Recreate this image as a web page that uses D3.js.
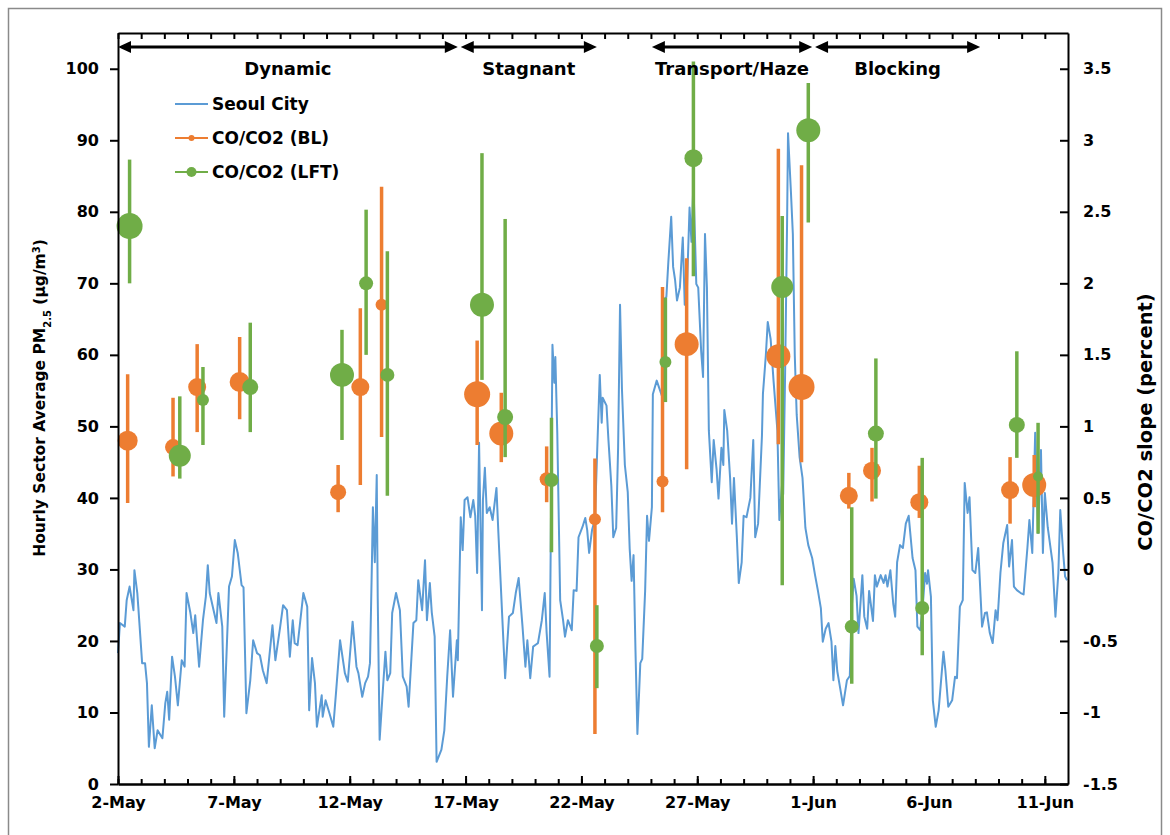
<!DOCTYPE html>
<html><head><meta charset="utf-8">
<script src="https://cdn.jsdelivr.net/npm/d3@7"></script>
<style>
html,body{margin:0;padding:0;background:#fff;}
svg text{font-family:"DejaVu Sans",sans-serif;font-weight:bold;fill:#000;}
</style></head><body>
<svg id="chart" width="1170" height="835"></svg>
<script>
// ---------------- DATA ----------------
// Seoul City hourly PM2.5 (hours since 2-May 00:00, µg/m3)
const seoulHour = [0,2,7,9,12,16,17,20,21,25,28,30,32,35,38,41,46,49,51,53,56,59,62,66,69,71,75,78,80,84,88,91,93,95,99,102,104,108,110,115,118,121,124,128,130,133,137,140,144,147,150,154,160,163,168,171,175,178,181,183,186,192,196,198,201,204,206,211,212,215,219,223,226,230,235,238,243,247,249,253,256,259,261,263,264,266,268,269,271,275,277,279,282,284,288,292,295,299,301,306,309,311,315,318,320,323,325,328,330,335,338,341,344,347,351,352,355,357,359,362,365,368,370,372,374,377,378,380,382,385,388,392,394,398,401,403,405,409,412,415,419,422,424,427,430,433,435,439,442,444,447,449,450,452,453,455,458,461,463,466,470,472,475,477,481,484,486,488,491,494,496,499,501,502,506,508,511,513,516,518,520,522,525,528,530,532,534,536,538,541,543,546,548,550,553,554,558,561,564,565,568,570,573,575,577,579,582,585,587,589,592,594,596,599,601,604,606,608,610,612,615,617,620,622,625,627,628,631,634,636,638,641,643,646,648,651,655,658,660,663,667,668,671,673,676,679,683,685,688,689,691,693,694,697,699,701,703,706,709,712,715,719,722,725,728,730,733,736,739,741,743,745,748,751,755,758,760,762,765,767,771,773,776,778,782,784,786,790,793,795,797,800,803,805,807,810,813,816,819,823,826,828,831,834,836,838,839,842,844,847,850,855,857,860,864,867,869,872,875,877,880,882,885,888,891,895,898,900,903,906,909,911,914,917,921,923,926,928,931,935,938,942,944,947,950,953,956,958,960,963,968,971,974,976,979,981,983];
const seoulPM = [18.3,22.5,22,25.7,27.6,24.3,29.9,26.7,24.8,16.9,16.9,14.1,5.2,11,5,7.5,6.4,11.3,12.9,9,17.8,15,11,17.3,16.4,26.7,23.9,21.1,23.6,16.4,22.9,26.2,30.6,26.7,24.3,22.5,26.7,22,9.4,27.6,29,34.1,32.3,27.8,27.5,9.9,14.5,20.1,18.3,18,15.9,14.1,22.2,17.3,22,25,24.3,17.8,22.9,19.7,19.4,26.7,24.8,10.3,17.6,14.1,8,12.4,9.4,11.7,9.9,8,13.1,20.1,15.5,14.3,22.7,16.4,15.5,12.2,14.1,15,16.9,30.9,38.7,31,43.2,26.2,6.2,14.5,18.5,14.5,15.5,23.9,26.7,24.3,15,13.6,10.8,22.5,22.9,28.5,24.3,31.3,22.9,28.1,24,20.6,3.1,4.8,7.5,15,21.5,12.2,20.1,17.3,37.3,32.7,39.7,40.1,37.3,39.7,37.5,29.5,47.7,24.3,39.7,44.2,37.9,38.7,36.9,41.4,35.1,23.4,14.8,19.2,23.4,23.9,26.7,28.8,22,16.4,20.1,14.8,19.2,19.5,19.7,22.9,26.7,21.1,15,45.3,61.4,56.1,59.7,49.1,25.7,22.9,20.6,22.9,21.5,27.1,27,34.5,35.9,37.2,35.5,32.3,35.5,37,45.2,57.2,50.5,54,52.9,48.1,41.7,34.5,35.8,47,67,55.2,44.6,40.8,32.9,28.4,32,18.7,7,16.9,17.5,27,37.5,34,38.7,54.5,56.4,55.2,54,67.6,68.1,72.9,79.3,72.3,70.5,67.6,69.4,76.4,67,68,80.6,75.8,84.1,69.9,69.4,60.6,56.9,76.9,69.4,49.4,42.2,48.1,44,39.9,47,44.6,52.3,49.4,42.8,36.4,42.8,34.5,28.1,31,37.5,37.3,40,48.1,34.5,36.4,48.7,54.5,59.9,64.6,62.2,56.4,49.4,36.9,42.2,40.5,57.5,78.2,91,82.8,76.9,59.9,51.6,45.7,42.8,35.8,33.4,31.6,29.2,27,24.6,19.9,21.7,22.5,19.9,14.5,19.3,15.8,13.4,11,14.5,15.1,24.6,28.7,26.3,21.1,29.2,23.4,21.7,27,22.8,29.2,27.6,29.2,28.1,29.2,27.6,29.9,25.2,23.4,31,33.4,33,36.4,37.5,31.6,29.9,22,21.5,25.7,29.5,28,29.9,26.2,11.7,8,10.3,18.5,15.9,10.8,11.7,15,14.8,24.8,25.7,42.1,37.9,40.1,29.9,29.5,33,22,23.9,24,21.1,19.7,24.3,22.9,29.5,33.7,36.2,30.4,34.1,27.6,27.1,26.7,26.5,33.1,36.9,32.3,49.1,35.1,46.7,32.3,40.7,35.9,30.9,23.4,29.5,38.3,32.3,29,28.5];

// CO/CO2 (BL) slope (percent): hour, value, error-bar top/bottom, relative weight
const blHour   = [10,57,82,126,228,251,273,372,397,444,494,564,589,684,708,757,781,830,924,949];
const blSlope  = [0.90,0.855,1.275,1.31,0.54,1.275,1.85,1.225,0.95,0.63,0.35,0.615,1.575,1.49,1.275,0.515,0.69,0.47,0.555,0.59];
const blHigh   = [1.365,1.2,1.575,1.625,0.73,1.825,2.675,1.6,1.235,0.86,0.775,1.975,2.175,2.94,2.825,0.675,0.85,0.725,0.785,0.8];
const blLow    = [0.465,0.65,0.96,1.05,0.4,0.59,0.925,0.87,0.75,0.47,-1.15,0.4,0.7,0.875,0.75,0.425,0.475,0.36,0.32,0.435];
const blWeight = [3.5,2.5,3,3.5,2.5,3,1.5,5,4.5,2,1.5,1.5,4.5,4.5,5,3,3,3,3,4.5];

// CO/CO2 (LFT)
const lftHour   = [12,64,88,137,232,257,279,377,401,449,496,567,596,688,715,760,785,833,931,953];
const lftSlope  = [2.4,0.795,1.185,1.275,1.36,2.0,1.36,1.85,1.065,0.625,-0.535,1.45,2.875,1.975,3.07,-0.4,0.95,-0.27,1.01,0.65];
const lftHigh   = [2.865,1.21,1.415,1.725,1.675,2.515,2.225,2.91,2.45,1.06,-0.25,1.9,3.55,2.47,3.4,0.435,1.475,0.78,1.525,1.025];
const lftLow    = [2.0,0.635,0.87,0.96,0.905,1.5,0.515,1.325,0.785,0.12,-0.83,1.17,2.05,-0.11,2.425,-0.8,0.495,-0.6,0.78,0.25];
const lftWeight = [5,4,1.5,2.5,4.5,2,2,4.5,2.5,2,2,1.5,3,4,4.5,2,2.5,2,2.5,1];

// Regimes (hours since 2-May 00:00)
const regimeNames = ["Dynamic","Stagnant","Transport/Haze","Blocking"];
const regimeStart = [0,355,553,722];
const regimeEnd   = [352,496,719,893];

// Tick labels
const xTickLabels = ["2-May","7-May","12-May","17-May","22-May","27-May","1-Jun","6-Jun","11-Jun"];
const leftTicks  = [0,10,20,30,40,50,60,70,80,90,100];
const rightTicks = [-1.5,-1,-0.5,0,0.5,1,1.5,2,2.5,3,3.5];
const seriesNames = ["Seoul City","CO/CO2 (BL)","CO/CO2 (LFT)"];

// ---------------- CHART ----------------
const colBlue="#5B9BD5", colOrange="#ED7D31", colGreen="#70AD47";
const svg=d3.select("#chart");
const m={l:118,r:1068,t:33,b:784};
const start=new Date(2016,4,2), end=new Date(2016,5,12);
const hd=h=>d3.timeHour.offset(start,h);
const x=d3.scaleTime().domain([start,end]).range([m.l,m.r]);
const yL=d3.scaleLinear().domain([0,105]).range([m.b,m.t]);
const yR=d3.scaleLinear().domain([-1.5,3.75]).range([m.b,m.t]);
const rS=d3.scaleLinear().domain([1,5]).range([5,13]);

// outer frame
svg.append("rect").attr("x",8.5).attr("y",8.5).attr("width",1153).attr("height",900)
  .attr("fill","none").attr("stroke","#8a8a8a").attr("stroke-width",1.5);

// Seoul line
const seoul=seoulHour.map((h,i)=>({h,v:seoulPM[i]}));
svg.append("path").datum(seoul)
  .attr("d",d3.line().x(d=>x(hd(d.h))).y(d=>yL(d.v)))
  .attr("fill","none").attr("stroke",colBlue).attr("stroke-width",2).attr("stroke-linejoin","round");

function series(hours,vals,hi,lo,w,col){
  const data=hours.map((h,i)=>({h,v:vals[i],hi:hi[i],lo:lo[i],w:w[i]}));
  const g=svg.append("g");
  g.selectAll("line").data(data).join("line")
    .attr("x1",d=>x(hd(d.h))).attr("x2",d=>x(hd(d.h)))
    .attr("y1",d=>yR(d.hi)).attr("y2",d=>yR(d.lo))
    .attr("stroke",col).attr("stroke-width",3.5);
  g.selectAll("circle").data(data).join("circle")
    .attr("cx",d=>x(hd(d.h))).attr("cy",d=>yR(d.v)).attr("r",d=>rS(d.w))
    .attr("fill",col);
}
series(blHour,blSlope,blHigh,blLow,blWeight,colOrange);
series(lftHour,lftSlope,lftHigh,lftLow,lftWeight,colGreen);

// axes
const allDays=d3.timeDay.range(start,end);
const majorDays=allDays.filter((d,i)=>i%5===0);
function styleAxis(g){g.selectAll("path.domain").attr("stroke","#000").attr("stroke-width",2);
  g.selectAll(".tick line").attr("stroke","#000").attr("stroke-width",2);}

svg.append("g").attr("transform",`translate(0,${m.t})`)
  .call(d3.axisBottom(x).tickValues(allDays).tickSize(6).tickSizeOuter(0).tickFormat(""))
  .call(styleAxis);
svg.append("g").attr("transform",`translate(0,${m.b})`)
  .call(d3.axisBottom(x).tickValues(allDays).tickSize(-5).tickSizeOuter(0).tickFormat(""))
  .call(styleAxis);
const bx=svg.append("g").attr("transform",`translate(0,${m.b})`)
  .call(d3.axisBottom(x).tickValues(majorDays).tickSize(-8).tickSizeOuter(0).tickPadding(13)
     .tickFormat((d,i)=>xTickLabels[i]))
  .call(styleAxis);
bx.selectAll("text").attr("font-size",16).attr("font-family","DejaVu Sans").attr("font-weight","bold");

const la=svg.append("g").attr("transform",`translate(${m.l},0)`)
  .call(d3.axisLeft(yL).tickValues(leftTicks).tickSize(8).tickSizeOuter(0).tickPadding(11))
  .call(styleAxis);
la.selectAll("text").attr("font-size",16).attr("font-family","DejaVu Sans").attr("font-weight","bold");

const ra=svg.append("g").attr("transform",`translate(${m.r},0)`)
  .call(d3.axisRight(yR).tickValues(rightTicks).tickSize(-8).tickSizeOuter(0).tickPadding(15)
     .tickFormat(d=>String(d)))
  .call(styleAxis);
ra.selectAll("text").attr("font-size",16).attr("font-family","DejaVu Sans").attr("font-weight","bold");

// axis titles
const lt=svg.append("text").attr("transform","translate(45,398) rotate(-90)")
  .attr("text-anchor","middle").attr("font-size",15.5);
lt.append("tspan").text("Hourly Sector Average PM");
lt.append("tspan").attr("baseline-shift","sub").attr("font-size",10).text("2.5");
lt.append("tspan").text("  (µg/m");
lt.append("tspan").attr("baseline-shift","super").attr("font-size",10).text("3");
lt.append("tspan").text(")");
svg.append("text").attr("transform","translate(1152,422) rotate(-90)")
  .attr("text-anchor","middle").attr("font-size",19.5).text("CO/CO2 slope (percent)");

// regime arrows
const ay=47, hl=13, hw=6;
regimeNames.forEach((name,i)=>{
  const x1=x(hd(regimeStart[i])), x2=x(hd(regimeEnd[i]));
  svg.append("line").attr("x1",x1+hl-1).attr("x2",x2-hl+1).attr("y1",ay).attr("y2",ay)
    .attr("stroke","#000").attr("stroke-width",3);
  svg.append("path").attr("d",`M${x1},${ay}L${x1+hl},${ay-hw}L${x1+hl},${ay+hw}Z`).attr("fill","#000");
  svg.append("path").attr("d",`M${x2},${ay}L${x2-hl},${ay-hw}L${x2-hl},${ay+hw}Z`).attr("fill","#000");
  svg.append("text").attr("x",(x1+x2)/2).attr("y",75).attr("text-anchor","middle")
    .attr("font-size",18).text(name);
});

// legend
const lg=svg.append("g");
const lgY=[104,138,172], lgCol=[colBlue,colOrange,colGreen], lgR=[0,3,5];
seriesNames.forEach((n,i)=>{
  lg.append("line").attr("x1",175).attr("x2",208).attr("y1",lgY[i]).attr("y2",lgY[i])
    .attr("stroke",lgCol[i]).attr("stroke-width",2);
  if(lgR[i]) lg.append("circle").attr("cx",191.5).attr("cy",lgY[i]).attr("r",lgR[i]).attr("fill",lgCol[i]);
  lg.append("text").attr("x",212).attr("y",lgY[i]).attr("dy","0.36em").attr("font-size",17).text(n);
});
</script>
</body></html>
